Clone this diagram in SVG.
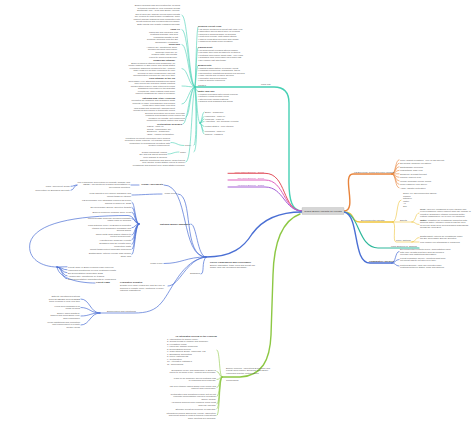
<svg xmlns="http://www.w3.org/2000/svg" width="474" height="423" viewBox="0 0 474 423">
<style>
text{font-family:"Liberation Sans",Arial,sans-serif;font-size:2.3px;fill:#5c5c5c}
.b{font-weight:bold;fill:#3a3a3a;font-size:2.4px}
.e{text-anchor:end}
.m{text-anchor:middle}
path{fill:none;stroke-linecap:round}
.tl{stroke:#46d0b4;stroke-width:0.6}
.tlm{stroke:#46d0b4;stroke-width:1.4}
.or{stroke:#e8843c;stroke-width:0.6}
.orm{stroke:#e8843c;stroke-width:1.4}
.ye{stroke:#efc53c;stroke-width:0.6}
.yem{stroke:#efc53c;stroke-width:1.4}
.t2{stroke:#2fb89b;stroke-width:1.2}
.bl{stroke:#4a6fd4;stroke-width:0.7}
.blm{stroke:#4a6fd4;stroke-width:1.4}
.gr{stroke:#8dc844;stroke-width:0.6}
.grm{stroke:#8dc844;stroke-width:1.4}
</style>
<rect width="474" height="423" fill="#ffffff"/>

<g id="connectors">
  <path class="tlm" d="M302,211 C292,211 289,200 289,182 L289,103 C289,93 284,87 274,87 L195,87"/>
  <path class="tl" d="M195,87 C189,87 188,15 182,15"/>
  <path class="tl" d="M195,87 C189,87 188,29.5 182,29.5"/>
  <path class="tl" d="M195,87 C189,87 188,44.5 182,44.5"/>
  <path class="tl" d="M195,87 C189,87 188,68.5 182,68.5"/>
  <path class="tl" d="M195,87 C189,87 188,86 182,86"/>
  <path class="tl" d="M195,87 C189,87 188,104 182,104"/>
  <path class="tl" d="M195,87 C190,87 190,117 186,117"/>
  <path class="tl" d="M195,87 C189,87 188,124 183,124"/>
  <path class="tl" d="M195,87 C196,100 197,145.5 194,145.5"/>
  <path class="tl" d="M195,87 C197,100 198,152 194,152"/>
  <path class="tl" d="M195,87 C191,100 192,162 186,162"/>
  <path class="tl" d="M195,87 C196,87 196,26.5 198,26.5"/>
  <path class="tl" d="M195,87 C196,87 196,47.5 198,47.5"/>
  <path class="tl" d="M195,87 C196,87 196,65.5 198,65.5"/>
  <path class="tl" d="M195,87 C196,87 196,91.5 198,91.5"/>
  <path class="tl" d="M195,87 C197,95 197,123 200,123"/>
  <path class="tl" d="M200,123 C202,123 202,112 204,112"/>
  <path class="tl" d="M200,123 C202,123 202,116.5 204,116.5"/>
  <path class="tl" d="M200,123 C202,123 202,119 204,119"/>
  <path class="tl" d="M200,123 C202,123 202,121.5 204,121.5"/>
  <path class="tl" d="M200,123 C202,123 202,126.5 204,126.5"/>
  <path class="tl" d="M200,123 C202,123 202,131.5 204,131.5"/>
  <path class="tl" d="M200,123 C202,123 202,134 204,134"/>
  <path class="tl" d="M184,145.5 C177,145.5 177,142.5 171,142.5"/>
  <path class="tl" d="M179,152 C173,152 173,154 168,154"/>

  <path stroke="#e2505c" stroke-width="1" d="M228,173.3 L265,173.3 C287,173.3 282,211 302,211"/>
  <path stroke="#e05fbf" stroke-width="1" d="M228,180 L265,180 C285,180 283,211 302,211"/>
  <path stroke="#a55fd6" stroke-width="1" d="M228,187 L265,187 C284,187 284,211 302,211"/>

  <path class="orm" d="M344,211 C358,211 341,174 353,174 L392,174"/>
  <path class="or" d="M392,174 C396,174 395,159.8 399,159.8"/>
  <path class="or" d="M392,174 C396,174 395,163.3 399,163.3"/>
  <path class="or" d="M392,174 C396,174 395,166.8 399,166.8"/>
  <path class="or" d="M392,174 C396,174 395,170.3 399,170.3"/>
  <path class="or" d="M392,174 C396,174 395,173.8 399,173.8"/>
  <path class="or" d="M392,174 C396,174 395,177.3 399,177.3"/>
  <path class="or" d="M392,174 C396,174 395,180.8 399,180.8"/>
  <path class="or" d="M392,174 C396,174 395,184.3 399,184.3"/>
  <path class="or" d="M392,174 C396,174 395,187.8 399,187.8"/>

  <path class="yem" d="M344,212 C356,212 350,222 360,222 L393,222"/>
  <path class="ye" d="M393,222 C398,222 396,200 401,200"/>
  <path class="ye" d="M393,222 L412,222"/>
  <path class="ye" d="M412,222 C416,222 415,213 419,213"/>
  <path class="ye" d="M412,222 C416,222 415,224.5 419,224.5"/>
  <path class="ye" d="M393,222 C397,222 392,242 396,242 L412,242"/>
  <path class="ye" d="M412,242 C416,242 415,237.5 419,237.5"/>
  <path class="ye" d="M412,242 L419,242"/>

  <path class="t2" d="M344,212 C360,214 358,248 378,248 L419,248"/>

  <path class="blm" d="M344,212 C360,215 352,263 370,263 L392,263"/>
  <path class="bl" d="M392,263 C396,263 395,251.5 399,251.5"/>
  <path class="bl" d="M392,263 C396,263 395,259.5 399,259.5"/>
  <path class="bl" d="M392,263 C396,263 395,266 399,266"/>

  <path class="blm" d="M302,212 C278,212 262,220 252,234 C244,247 232,257 206,257"/>
  <path class="bl" d="M206,257 C180,257 190,185 164,185"/>
  <path class="bl" d="M139,185 L131,185"/>
  <path class="bl" d="M77,185 C74,185 74,186.3 71,186.3"/>
  <path class="bl" d="M77,185 C74,185 74,190.3 71,190.3"/>
  <path class="bl" d="M206,257 C182,257 194,194 178,194"/>
  <path class="bl" d="M162,194 C150,194 140,195 132,195"/>
  <path class="bl" d="M206,257 C197,257 197,224 191,224"/>
  <path class="bl" d="M139,224 C135,224 135,202 132,202"/>
  <path class="bl" d="M139,224 C135,224 135,207.3 132,207.3"/>
  <path class="bl" d="M139,224 C135,224 135,212.3 132,212.3"/>
  <path class="bl" d="M139,224 C135,224 135,218.5 132,218.5"/>
  <path class="bl" d="M139,224 C135,224 135,227.8 132,227.8"/>
  <path class="bl" d="M139,224 C135,224 135,235 132,235"/>
  <path class="bl" d="M139,224 C135,224 135,239.8 132,239.8"/>
  <path class="bl" d="M139,224 C135,224 135,244.5 132,244.5"/>
  <path class="bl" d="M139,224 C135,224 135,249.3 132,249.3"/>
  <path class="bl" d="M139,224 C135,224 135,254.5 132,254.5"/>
  <path class="bl" d="M139,224 C135,224 134,215.5 128,215.5 C75,215.5 35,223 30,243 C27,259 42,267 57,267"/>
  <path class="bl" d="M57,267 C62,267 62,266.8 67,266.8"/>
  <path class="bl" d="M57,267 C62,267 62,269.8 67,269.8"/>
  <path class="bl" d="M57,267 C62,267 62,272.8 67,272.8"/>
  <path class="bl" d="M57,267 C62,267 62,275.8 67,275.8"/>
  <path class="bl" d="M57,267 C62,267 62,278.8 67,278.8"/>
  <path class="bl" d="M57,267 C59,280 82,283 95,283"/>
  <path class="bl" d="M206,257 C186,257 182,263.5 164,263.5"/>
  <path class="bl" d="M206,257 C201,262 205,274 201,274"/>
  <path class="bl" d="M206,257 C186,259 180,286 168,286"/>
  <path class="bl" d="M206,257 C182,260 172,290 162,302 C155,311 146,313 134,313 L100,313"/>
  <path class="bl" d="M100,313 C90,313 90,299 81,299"/>
  <path class="bl" d="M100,313 C90,313 90,307.5 81,307.5"/>
  <path class="bl" d="M100,313 C90,313 90,316 81,316"/>
  <path class="bl" d="M100,313 C90,313 90,325 81,325"/>

  <path class="grm" d="M300,214 C284,220 274,238 273,275 L271,335 C270,360 262,376 240,377 L222,377"/>
  <path class="gr" d="M222,377 C219,377 220,350 217,350"/>
  <path class="gr" d="M222,377 C219,377 220,371.5 217,371.5"/>
  <path class="gr" d="M222,377 C219,377 220,379.5 217,379.5"/>
  <path class="gr" d="M222,377 C219,377 220,387.5 217,387.5"/>
  <path class="gr" d="M222,377 C219,377 220,396.5 217,396.5"/>
  <path class="gr" d="M222,377 C219,377 220,404 217,404"/>
  <path class="gr" d="M222,377 C219,377 220,408.8 217,408.8"/>
  <path class="gr" d="M222,377 C219,377 220,415.5 217,415.5"/>
</g>

<g id="teal-label"><text x="261" y="85.3">Land Use</text><text x="198" y="85.5">Causes</text></g>
<g id="teal-a"><text class="e" x="180" y="6"><tspan x="180">Biofuel demand has accelerated the clearing</tspan><tspan x="180" dy="2.5">of tropical forests for new cropland across</tspan><tspan x="180" dy="2.5">Southeast Asia, Africa and South America.</tspan><tspan x="180" dy="3.5">Direct land use change occurs when forests</tspan><tspan x="180" dy="2.5">are cleared to plant biofuel feedstocks, while</tspan><tspan x="180" dy="2.5">indirect change displaces food production into</tspan><tspan x="180" dy="2.5">forest frontiers and releases stored carbon.</tspan><tspan x="180" dy="2.5">Both effects can negate emission savings.</tspan></text></g>
<g id="teal-b"><text class="e b" x="180" y="29.5">Palm Oil</text><text class="e" x="178" y="32.5"><tspan x="178">Indonesia and Malaysia lead</tspan><tspan x="178" dy="2.5">peatland drainage and fires</tspan><tspan x="178" dy="2.5">orangutan habitat is lost</tspan><tspan x="178" dy="2.5">biodiesel demand from the EU</tspan><tspan x="178" dy="2.5">smallholder expansion</tspan></text></g>
<g id="teal-c"><text class="e b" x="180" y="45">Soybeans</text><text class="e" x="177" y="47.5"><tspan x="177">Amazon soy moratorium 2006</tspan><tspan x="177" dy="2.5">Cerrado savanna conversion</tspan><tspan x="177" dy="2.5">biodiesel from soy oil</tspan><tspan x="177" dy="2.5">pushes cattle into forests</tspan><tspan x="177" dy="2.5">export to China and Europe</tspan></text></g>
<g id="teal-d"><text class="e b" x="175" y="61">Sugarcane Ethanol</text><text class="e" x="175" y="63.5"><tspan x="175">Brazil produces ethanol from sugarcane on</tspan><tspan x="175" dy="2.5">former pasture in Sao Paulo and Goias states</tspan><tspan x="175" dy="2.5">expansion displaces ranching to the Amazon</tspan><tspan x="175" dy="2.5">high yields per hectare compared to corn</tspan><tspan x="175" dy="2.5">burning of cane fields before harvest</tspan><tspan x="175" dy="2.5">mechanization reduces fire use over time</tspan></text></g>
<g id="teal-e"><text class="e b" x="175" y="79">Corn Ethanol in the US</text><text class="e" x="175" y="81.5"><tspan x="175">Renewable Fuel Standard mandates blending</tspan><tspan x="175" dy="2.5">corn prices rise and spur global planting</tspan><tspan x="175" dy="2.5">conservation reserve land returned to crops</tspan><tspan x="175" dy="2.5">grassland conversion in the Dakotas</tspan><tspan x="175" dy="2.5">exports fall, other nations plant more</tspan><tspan x="175" dy="2.5">indirect emissions are hard to measure</tspan></text></g>
<g id="teal-f"><text class="e b" x="175" y="98.5">Jatropha and Other Oilseeds</text><text class="e" x="175" y="101"><tspan x="175">promoted for marginal and degraded lands</tspan><tspan x="175" dy="2.5">projects in India, Mozambique and Ghana</tspan><tspan x="175" dy="2.5">yields often lower than expected</tspan><tspan x="175" dy="2.5">land grabs and community displacement</tspan><tspan x="175" dy="2.5">rapeseed and canola in temperate zones</tspan></text></g>
<g id="teal-g"><text class="e" x="185" y="113.5"><tspan x="185">Second generation fuels from cellulosic</tspan><tspan x="185" dy="2.5">residues and grasses could reduce the</tspan><tspan x="185" dy="2.5">pressure on forests, but commercial</tspan><tspan x="185" dy="2.5">production remains limited and costly.</tspan></text></g>
<g id="teal-h"><text class="e b" x="182" y="124.5">Certification Schemes</text><text x="147" y="127"><tspan x="147">RSPO - palm oil</tspan><tspan x="147" dy="2.5">RTRS - responsible soy</tspan><tspan x="147" dy="2.5">Bonsucro - sugarcane</tspan><tspan x="147" dy="2.5">ISCC - carbon certification</tspan></text></g>
<g id="teal-i"><text x="185" y="146">Policy</text><text class="e" x="170" y="138.5"><tspan x="170">Moratoria on forest conversion have slowed</tspan><tspan x="170" dy="2.5">clearing in some regions, yet leakage moves</tspan><tspan x="170" dy="2.5">production to neighboring countries with</tspan><tspan x="170" dy="2.5">weaker enforcement.</tspan></text></g>
<g id="teal-j"><text x="180" y="152.5">Trade</text><text class="e" x="167" y="152.5"><tspan x="167">global commodity chains</tspan><tspan x="167" dy="2.5">EU and US import demand</tspan><tspan x="167" dy="2.5">price signals to farmers</tspan></text></g>
<g id="teal-k"><text class="e" x="185" y="160.5"><tspan x="185">Satellite monitoring and supply chain tracing</tspan><tspan x="185" dy="2.5">help identify deforestation linked to biofuel</tspan><tspan x="185" dy="2.5">feedstocks and support zero-deforestation pledges.</tspan></text></g>
<g id="teal-r1"><text class="b" x="198" y="27">Tropical Forest Loss</text><text x="198" y="29.5"><tspan x="198">• 13 million hectares of forest lost each year</tspan><tspan x="198" dy="2.5">• agriculture drives about 80% of clearing</tspan><tspan x="198" dy="2.5">• biofuels a growing share of demand</tspan><tspan x="198" dy="2.5">• peat fires release vast carbon stores</tspan><tspan x="198" dy="2.5">• loss of ecosystem services and rainfall</tspan><tspan x="198" dy="2.5">• indigenous lands under pressure</tspan></text></g>
<g id="teal-r2"><text class="b" x="198" y="48">Carbon Debt</text><text x="198" y="50.5"><tspan x="198">• clearing forest releases stored carbon</tspan><tspan x="198" dy="2.5">• payback time from decades to centuries</tspan><tspan x="198" dy="2.5">• peatland conversion worst case: 400 years</tspan><tspan x="198" dy="2.5">• degraded land conversion pays back fast</tspan><tspan x="198" dy="2.5">• soil carbon lost with tillage</tspan></text></g>
<g id="teal-r3"><text class="b" x="198" y="66">Biodiversity</text><text x="198" y="68.5"><tspan x="198">• habitat fragmentation of primary forest</tspan><tspan x="198" dy="2.5">• endangered species: orangutans, tigers</tspan><tspan x="198" dy="2.5">• monoculture plantations support few species</tspan><tspan x="198" dy="2.5">• edge effects and invasive species</tspan><tspan x="198" dy="2.5">• pollinator and bird declines</tspan><tspan x="198" dy="2.5">• loss of genetic resources</tspan></text></g>
<g id="teal-r5"><text class="b" x="198" y="92">Water and Soil</text><text x="198" y="94.5"><tspan x="198">• erosion increases after forest removal</tspan><tspan x="198" dy="2.5">• fertilizer runoff pollutes rivers</tspan><tspan x="198" dy="2.5">• altered local rainfall patterns</tspan><tspan x="198" dy="2.5">• drained peat subsides and burns</tspan></text></g>
<g id="teal-r6"><text x="205" y="112.7">Brazil - sugarcane</text><text x="205" y="117.2">Indonesia - palm oil</text><text x="205" y="119.7">Malaysia - palm oil</text><text x="205" y="122.2">Argentina - soy biodiesel exports</text><text x="205" y="127.2">United States - corn ethanol</text><text x="205" y="132.2">Colombia - palm oil</text><text x="205" y="134.7">Nigeria - cassava</text></g>

<g id="gen-1"><text class="e" x="264" y="172.6" style="fill:#d9434f">Food-based Biofuels - 2000s</text></g>
<g id="gen-2"><text class="e" x="264" y="179.3" style="fill:#cf4fae">Non-food Biofuels - 2010s</text></g>
<g id="gen-3"><text class="e" x="264" y="186.3" style="fill:#9351c4">Advanced Biofuels - 2020s</text></g>

<g id="orange-main"><text x="354" y="173.2">US Bioenergy Crops and Their Impacts</text></g>
<g id="orange-items"><text x="400" y="160.5">Corn: largest feedstock, 40% of US harvest</text><text x="400" y="164">Soybeans: biodiesel feedstock</text><text x="400" y="167.5">Switchgrass: perennial</text><text x="400" y="171">Miscanthus: high yield</text><text x="400" y="174.5">Sorghum: drought tolerant</text><text x="400" y="178">Canola: oilseed crop</text><text x="400" y="181.5">Woody biomass: poplar, willow</text><text x="400" y="185">Crop residues: corn stover</text><text x="400" y="188.5">Algae: aquatic cultivation</text></g>

<g id="yellow-main"><text x="361" y="221.3">Environmental Impacts</text></g>
<g id="yellow-list"><text x="403" y="194"><tspan x="403">Some Key Environmental Issues:</tspan><tspan x="403" dy="2.5">Carbon</tspan><tspan x="403" dy="2.5">Nitrogen</tspan><tspan x="403" dy="2.5">Water</tspan><tspan x="403" dy="2.5">Air</tspan><tspan x="403" dy="2.5">Soil</tspan></text></g>
<g id="yellow-effects"><text x="400" y="221.3">Effects</text>
<text x="420" y="209.5"><tspan x="420"><tspan class="b">GHG:</tspan> lifecycle emissions of corn ethanol may</tspan><tspan x="420" dy="2.5">exceed gasoline when indirect land use change is</tspan><tspan x="420" dy="2.5">counted; sugarcane ethanol performs better,</tspan><tspan x="420" dy="2.5">cutting emissions by up to 60% on farmland.</tspan></text>
<text x="420" y="220.5"><tspan x="420"><tspan class="b">Water:</tspan> irrigation for feedstocks competes with</tspan><tspan x="420" dy="2.5">drinking water; nitrogen runoff feeds the Gulf</tspan><tspan x="420" dy="2.5">of Mexico dead zone and degrades watersheds</tspan><tspan x="420" dy="2.5">across the Corn Belt.</tspan></text></g>
<g id="yellow-policy"><text x="396" y="241.3">Policy Options</text><text x="420" y="236.5"><tspan x="420">Sustainability criteria for feedstocks under</tspan><tspan x="420" dy="2.5">the EU Renewable Energy Directive</tspan></text><text x="420" y="242.5">Low carbon fuel standards in California</text></g>

<g id="teal2"><text x="391" y="247.3">Land Sparing vs. Sharing</text></g>

<g id="comparative"><text class="b" x="369" y="262.3">Comparative Theories</text>
<text x="400" y="250.3"><tspan x="400">Environmental Kuznets Curve: deforestation rises</tspan><tspan x="400" dy="2.5">with early growth and then falls as incomes</tspan><tspan x="400" dy="2.5">increase and institutions strengthen.</tspan></text>
<text x="400" y="258.5"><tspan x="400">Forest Transition Theory: countries shift from</tspan><tspan x="400" dy="2.5">net forest loss to net gain over time.</tspan></text>
<text x="400" y="265.5"><tspan x="400">Political Ecology: land use reflects power</tspan><tspan x="400" dy="2.5">relations between states, firms and farmers.</tspan></text></g>

<g id="blue-main"><text class="b" x="210" y="262.5">Policy Frameworks and Governance</text><text x="210" y="265.5"><tspan x="210">Biofuel mandates, trade rules and forest law</tspan><tspan x="210" dy="2.5">shape land use decisions worldwide.</tspan></text></g>
<g id="blue-c1"><text class="e b" x="163" y="185">Global Agreements</text>
<text class="e" x="130" y="182.5"><tspan x="130">UN Framework Convention on Climate Change and</tspan><tspan x="130" dy="2.5">REDD+ payments for avoided deforestation in</tspan><tspan x="130" dy="2.5">developing countries</tspan></text>
<text class="e" x="70" y="187">Paris Agreement (2015)</text><text class="e" x="70" y="191">Convention on Biological Diversity</text></g>
<g id="blue-c2"><text class="e" x="177" y="194.3">Trade Rules</text><text class="e" x="131" y="194.3"><tspan x="131">WTO disputes over biofuel subsidies and</tspan><tspan x="131" dy="2.5">import tariffs on ethanol</tspan></text></g>
<g id="blue-c3"><text class="e b" x="190" y="224.5">National Biofuel Mandates</text>
<text class="e" x="131" y="201"><tspan x="131">US Renewable Fuel Standard requires 36 billion</tspan><tspan x="131" dy="2.5">gallons of biofuel by 2022</tspan></text>
<text class="e" x="131" y="208">EU Renewable Energy Directive targets</text>
<text class="e" x="131" y="213">Brazil's Proalcool program since 1975</text>
<text class="e" x="131" y="218.5"><tspan x="131">Indonesia B30 biodiesel blending mandate</tspan><tspan x="131" dy="2.5">raises palm oil demand</tspan></text>
<text class="e" x="131" y="226"><tspan x="131">India National Policy on Biofuels promotes</tspan><tspan x="131" dy="2.5">ethanol from sugarcane molasses and</tspan><tspan x="131" dy="2.5">surplus grains</tspan></text>
<text class="e" x="131" y="234.5"><tspan x="131">China limits grain-based ethanol to</tspan><tspan x="131" dy="2.5">protect food security</tspan></text>
<text class="e" x="131" y="240.5">Argentina soy biodiesel exports</text>
<text class="e" x="131" y="244"><tspan x="131">Subsidies and tax credits lower</tspan><tspan x="131" dy="2.5">production costs</tspan></text>
<text class="e" x="131" y="250">Import tariffs protect domestic producers</text>
<text class="e" x="131" y="254"><tspan x="131">Sustainability criteria exclude high carbon</tspan><tspan x="131" dy="2.5">stock land</tspan></text></g>
<g id="blue-c4"><text x="68" y="267.5">Forest Code in Brazil requires legal reserves</text><text x="68" y="270.5">Indonesia moratorium on new peatland permits</text><text x="68" y="273.5">EU Deforestation Regulation 2023</text><text x="68" y="276.5">Amazon Soy Moratorium by traders</text><text x="68" y="279.5">Zero-deforestation commitments by companies</text><text class="b" x="96" y="282.5">Forest Laws</text></g>
<g id="blue-c5"><text class="e" x="163" y="264">Trade Policy</text></g>
<g id="blue-c6"><text class="e" x="200" y="274.3">Subsidies</text></g>
<g id="blue-c7"><text class="b" x="120" y="283.3">Legislative Debates</text><text x="120" y="286.3"><tspan x="120">Debate over food versus fuel and the role of</tspan><tspan x="120" dy="2.5">biofuels in climate policy continues in many</tspan><tspan x="120" dy="2.5">national legislatures.</tspan></text></g>
<g id="blue-c8"><text x="107" y="312.3">Enforcement and Monitoring</text>
<text class="e" x="80" y="297"><tspan x="80">Satellite monitoring systems</tspan><tspan x="80" dy="2.5">such as DETER and PRODES</tspan><tspan x="80" dy="2.5">track clearing in near real time</tspan></text>
<text class="e" x="80" y="306.5"><tspan x="80">Fines and embargoes on</tspan><tspan x="80" dy="2.5">illegal clearing</tspan></text>
<text class="e" x="80" y="313.5"><tspan x="80">Supply chain audits by</tspan><tspan x="80" dy="2.5">traders and processors verify</tspan><tspan x="80" dy="2.5">farm compliance</tspan></text>
<text class="e" x="80" y="322.5"><tspan x="80">Weak institutions and corruption</tspan><tspan x="80" dy="2.5">limit enforcement in remote</tspan><tspan x="80" dy="2.5">frontier areas</tspan></text></g>

<g id="green-main"><text x="226" y="368.5"><tspan x="226">Biofuel Policies, Agricultural Expansion and</tspan><tspan x="226" dy="2.5">Forest Governance: Evidence from Brazil,</tspan><tspan x="226" dy="2.5">Indonesia and the United States</tspan></text><text x="226" y="380.5">Conclusions</text></g>
<g id="green-outline"><text class="b m" x="196" y="336.5">An Integrated Review of the Problem</text>
<text x="167" y="339.5"><tspan x="167">1. Introduction to biofuel policy</tspan><tspan x="167" dy="2.5">2. Global trends in ethanol and biodiesel</tspan><tspan x="167" dy="2.5">3. Feedstock crops</tspan><tspan x="167" dy="2.5">4. Land use change modelling</tspan><tspan x="167" dy="2.5">5. Deforestation drivers</tspan><tspan x="167" dy="2.5">6. Case studies: Brazil, Indonesia, US</tspan><tspan x="167" dy="2.5">7. Emissions accounting</tspan><tspan x="167" dy="2.5">8. Policy instruments</tspan><tspan x="167" dy="2.5">9. Certification</tspan><tspan x="167" dy="2.5">10. Alternative pathways</tspan><tspan x="167" dy="2.5">11. Conclusions</tspan></text></g>
<g id="green-items">
<text class="e" x="216" y="370.5"><tspan x="216">Expansion of soy and sugarcane in Brazil is</tspan><tspan x="216" dy="2.5">linked to clearing in the Amazon and Cerrado.</tspan></text>
<text class="e" x="216" y="378.5"><tspan x="216">Palm oil for biodiesel drives peatland loss</tspan><tspan x="216" dy="2.5">in Indonesia and Malaysia.</tspan></text>
<text class="e" x="216" y="386.5"><tspan x="216">US corn ethanol raises global crop prices and</tspan><tspan x="216" dy="2.5">indirect land conversion.</tspan></text>
<text class="e" x="216" y="394.5"><tspan x="216">Certification and moratoria reduce but do not</tspan><tspan x="216" dy="2.5">eliminate deforestation linked to feedstock</tspan><tspan x="216" dy="2.5">supply chains.</tspan></text>
<text class="e" x="216" y="403"><tspan x="216">Advanced biofuels from residues avoid most</tspan><tspan x="216" dy="2.5">land use impacts.</tspan></text>
<text class="e" x="216" y="409.5">Stronger forest governance is essential.</text>
<text class="e" x="216" y="413.5"><tspan x="216">Integrated policies should link energy, agriculture</tspan><tspan x="216" dy="2.5">and forest goals to protect tropical ecosystems</tspan><tspan x="216" dy="2.5">while meeting fuel demand.</tspan></text></g>

<g id="center"><rect x="302" y="207.5" width="42" height="7" rx="0.6" fill="#d6d6d6" stroke="#a8a8a8" stroke-width="0.3"/><text class="m" x="323" y="212.1" style="font-size:2.5px;fill:#333">Global Biofuel Impacts on Forests</text></g>
</svg>
